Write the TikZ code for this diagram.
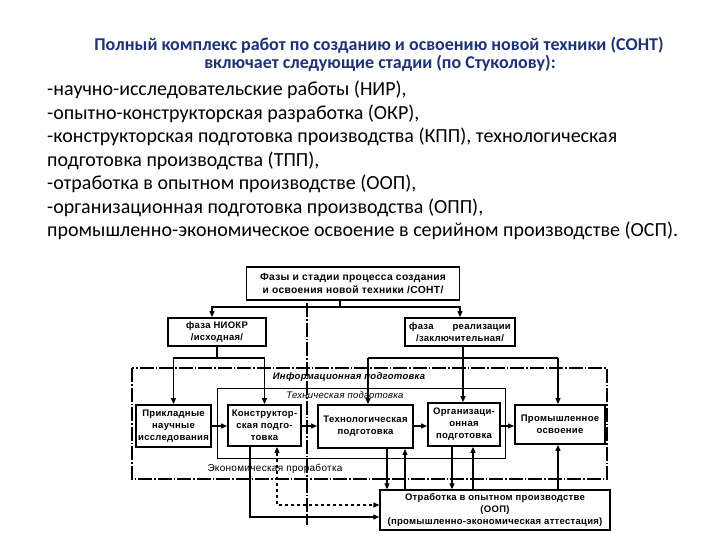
\documentclass[tikz,border=0pt]{standalone}
\usepackage{fontspec}
\setmainfont{Carlito}
\newfontfamily\diag[LetterSpace=3]{Liberation Sans}
\usetikzlibrary{arrows.meta}
\definecolor{navy}{RGB}{30,50,120}
\tikzset{
  box/.style={draw, line width=1.8pt, align=center, inner sep=1pt,
    font=\diag\bfseries\fontsize{9.5}{12}\selectfont},
  arr/.style={line width=1.1pt, -{Triangle[length=6pt,width=5pt]}},
  ln/.style={line width=1.1pt},
  dd/.style={line width=1.4pt, dash pattern=on 14pt off 2pt on 1.5pt off 2pt},
  lab/.style={font=\diag\fontsize{10}{12}\selectfont, inner sep=0pt},
  hdr/.style={font=\bfseries\fontsize{18}{20}\selectfont, text=navy, inner sep=0pt},
  lst/.style={font=\fontsize{20}{23}\selectfont, anchor=west, inner sep=0pt}
}
\begin{document}
\begin{tikzpicture}[x=1pt,y=-1pt]
\useasboundingbox (0,0) rectangle (720,540);
% header
\node[hdr] (h1) at (379,45) {Полный комплекс работ по созданию и освоению новой техники (СОНТ)};
\node[hdr] (h2) at (380,63) {включает следующие стадии (по Стуколову):};
\node[lst] (l1) at (47,90) {-научно-исследовательские работы (НИР),};
\node[lst] (l2) at (47,113.5) {-опытно-конструкторская разработка (ОКР),};
\node[lst] (l3) at (47,137) {-конструкторская подготовка производства (КПП), технологическая};
\node[lst] (l4) at (47,160.5) {подготовка производства (ТПП),};
\node[lst] (l5) at (47,184) {-отработка в опытном производстве (ООП),};
\node[lst] (l6) at (47,207.5) {-организационная подготовка производства (ОПП),};
\node[lst] (l7) at (47,231) {промышленно-экономическое освоение в серийном производстве (ОСП).};

% frames
\draw[dd] (132,368) rectangle (607,479);
\draw[ln, line width=0.9pt] (217,388) rectangle (505,458);
\draw[dd, line width=1.1pt] (307,303) -- (307,525);
\node[lab, font=\diag\bfseries\itshape\fontsize{9.5}{12}\selectfont] (info) at (349,377) {Информационная подготовка};
\node[lab, font=\diag\itshape\fontsize{9.5}{12}\selectfont] (techl) at (345,395) {Техническая подготовка};
\node[lab] (econ) at (275,469) {Экономическая проработка};

% boxes
\node[box, font=\diag\bfseries\fontsize{10.3}{12.5}\selectfont, minimum width=213pt, minimum height=33pt] (top) at (353,283.5) {Фазы и стадии процесса создания\\и освоения новой техники /СОНТ/};
\node[box, minimum width=98pt, minimum height=28pt] (niokr) at (217,332) {фаза НИОКР\\/исходная/};
\node[box, minimum width=110pt, minimum height=28pt] (real) at (460,332) {фаза\hspace{2em}реализации\\/заключительная/};
\node[box, minimum width=75pt, minimum height=42pt] (pns) at (173.5,426) {Прикладные\\научные\\исследования};
\node[box, minimum width=73pt, minimum height=41pt] (kons) at (264.5,425.5) {Конструктор-\\ская подго-\\товка};
\node[box, minimum width=95pt, minimum height=43pt] (tech) at (365.5,426.5) {Технологическая\\подготовка};
\node[box, minimum width=72pt, minimum height=43pt] (org) at (464,424.5) {Организаци-\\онная\\подготовка};
\node[box, minimum width=90pt, minimum height=39pt] (prom) at (560,424.5) {Промышленное\\освоение};
\node[box, line width=1.3pt, minimum width=230pt, minimum height=40pt] (oop) at (495,510) {Отработка в опытном производстве\\(ООП)\\(промышленно-экономическая аттестация)};

% top fork
\coordinate (tf) at (340,307);
\draw[ln] (top.south -| tf) -- (tf);
\draw[arr] (tf) -| (niokr.north -| 212,0);
\draw[arr] (tf) -| (real.north);
% NIOKR fork
\coordinate (nf) at (217,358);
\draw[ln] (niokr.south) -- (nf);
\draw[arr] (nf) -| (pns.north);
\draw[arr] (nf) -| (kons.north);
% realization fork
\coordinate (rf1) at (368,358);
\coordinate (rf2) at (558,358);
\draw[arr] (real.south -| 463,0) -- (org.north -| 463,0);
\draw[ln] (rf1) -- (rf2);
\draw[arr] (rf1) -- (tech.north -| rf1);
\draw[arr] (rf2) -- (prom.north -| rf2);
% chain
\draw[arr] (pns.east) -- (kons.west |- pns.east);
\draw[arr] (kons.east |- pns.east) -- (tech.west |- pns.east);
\draw[arr] (tech.east |- pns.east) -- (org.west |- pns.east);
\draw[arr] (org.east |- pns.east) -- (prom.west |- pns.east);
% lower links
\coordinate (a1) at (250,517);
\coordinate (a2) at (277,505);
\draw[arr] (kons.south -| a1) |- (oop.west |- a1);
\draw[arr, {Triangle[length=6pt,width=5pt]}-{Triangle[length=6pt,width=5pt]}, dashed] (kons.south -| a2) |- (oop.west |- a2);
\draw[arr] (tech.south -| 387,0) -- (oop.north -| 387,0);
\draw[arr] (oop.north -| 405,0) -- (tech.south -| 405,0);
\draw[arr] (org.south -| 452,0) -- (oop.north -| 452,0);
\draw[arr] (oop.north -| 473,0) -- (org.south -| 473,0);
\draw[arr] (oop.north -| 558,0) -- (prom.south -| 558,0);
\end{tikzpicture}
\end{document}
